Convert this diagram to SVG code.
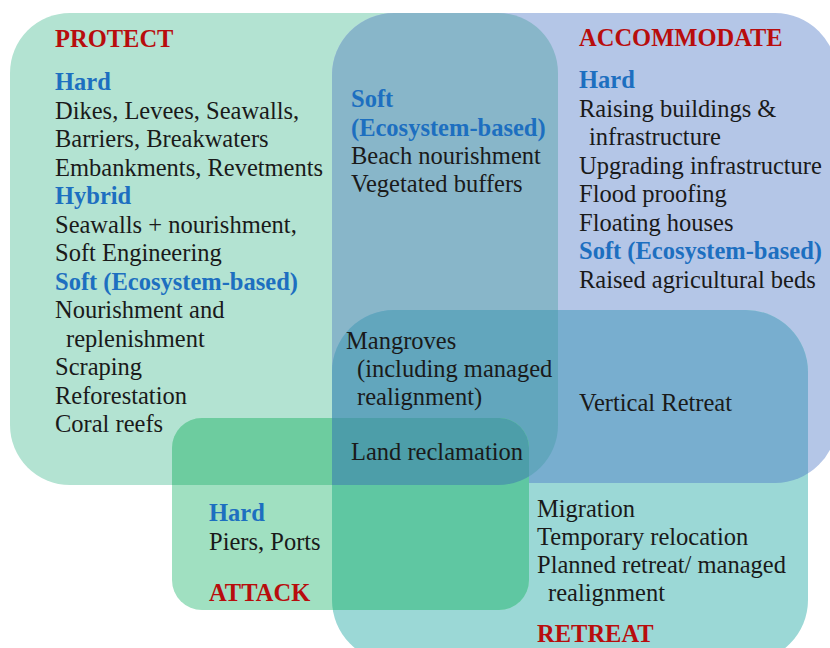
<svg xmlns="http://www.w3.org/2000/svg" xmlns:xlink="http://www.w3.org/1999/xlink" width="830" height="648" viewBox="0 0 830 648">
<style>
text{font-family:"Liberation Serif","Times New Roman",serif;font-size:24.5px;fill:#1a1a1a}
.h{font-weight:bold;fill:#1d6fc0}
.t{font-weight:bold;fill:#b80d0d}
</style>
<defs>
<rect id="shP" x="10" y="13" width="548" height="472" rx="60"/>
<rect id="shA" x="332" y="13" width="505" height="470" rx="62"/>
<rect id="shR" x="332" y="310" width="476" height="352" rx="62"/>
<rect id="shK" x="172" y="418" width="357" height="192" rx="30"/>
<clipPath id="cP"><use xlink:href="#shP"/></clipPath>
<clipPath id="cA"><use xlink:href="#shA"/></clipPath>
<clipPath id="cR"><use xlink:href="#shR"/></clipPath>
</defs>
<rect width="830" height="648" fill="#ffffff"/>
<g id="regions">
<use id="protect-shape" xlink:href="#shP" fill="#b3e3d2"/>
<use id="accommodate-shape" xlink:href="#shA" fill="#b4c6e7"/>
<use id="retreat-shape" xlink:href="#shR" fill="#9bd8d6"/>
<use id="attack-shape" xlink:href="#shK" fill="#a0e0c1"/>
<use xlink:href="#shA" fill="#88b6c9" clip-path="url(#cP)"/>
<use xlink:href="#shR" fill="#78aecf" clip-path="url(#cA)"/>
<use xlink:href="#shR" fill="#62a6bd" clip-path="url(#cP)"/>
<use xlink:href="#shK" fill="#6dcc9f" clip-path="url(#cP)"/>
<use xlink:href="#shK" fill="#5fc7a2" clip-path="url(#cR)"/>
<g clip-path="url(#cR)"><use xlink:href="#shK" fill="#4d9ea9" clip-path="url(#cP)"/></g>
</g>
<g id="protect">
<text class="t" x="55" y="47">PROTECT</text>
<text class="h" x="55" y="90">Hard</text>
<text x="55" y="118.5">Dikes, Levees, Seawalls,</text>
<text x="55" y="147">Barriers, Breakwaters</text>
<text x="55" y="175.5">Embankments, Revetments</text>
<text class="h" x="55" y="204">Hybrid</text>
<text x="55" y="232.5">Seawalls + nourishment,</text>
<text x="55" y="261">Soft Engineering</text>
<text class="h" x="55" y="289.5">Soft (Ecosystem-based)</text>
<text x="55" y="318">Nourishment and</text>
<text x="66" y="346.5">replenishment</text>
<text x="55" y="375">Scraping</text>
<text x="55" y="403.5">Reforestation</text>
<text x="55" y="432">Coral reefs</text>
</g>
<g id="protect-accommodate">
<text class="h" x="351" y="107">Soft</text>
<text class="h" x="351" y="136">(Ecosystem-based)</text>
<text x="351" y="164">Beach nourishment</text>
<text x="351" y="192">Vegetated buffers</text>
</g>
<g id="accommodate">
<text class="t" x="579" y="46">ACCOMMODATE</text>
<text class="h" x="579" y="88">Hard</text>
<text x="579" y="116.5">Raising buildings &amp;</text>
<text x="589" y="145">infrastructure</text>
<text x="579" y="173.5">Upgrading infrastructure</text>
<text x="579" y="202">Flood proofing</text>
<text x="579" y="230.5">Floating houses</text>
<text class="h" x="579" y="259">Soft (Ecosystem-based)</text>
<text x="579" y="287.5">Raised agricultural beds</text>
</g>
<g id="protect-accommodate-retreat">
<text x="346" y="349">Mangroves</text>
<text x="357" y="377">(including managed</text>
<text x="357" y="405">realignment)</text>
<text x="351" y="460">Land reclamation</text>
</g>
<g id="accommodate-retreat">
<text x="579" y="411">Vertical Retreat</text>
</g>
<g id="attack">
<text class="h" x="209" y="521">Hard</text>
<text x="209" y="549.5">Piers, Ports</text>
<text class="t" x="209" y="601">ATTACK</text>
</g>
<g id="retreat">
<text x="537" y="517">Migration</text>
<text x="537" y="545">Temporary relocation</text>
<text x="537" y="573">Planned retreat/ managed</text>
<text x="548" y="601">realignment</text>
<text class="t" x="537" y="642">RETREAT</text>
</g>
</svg>
